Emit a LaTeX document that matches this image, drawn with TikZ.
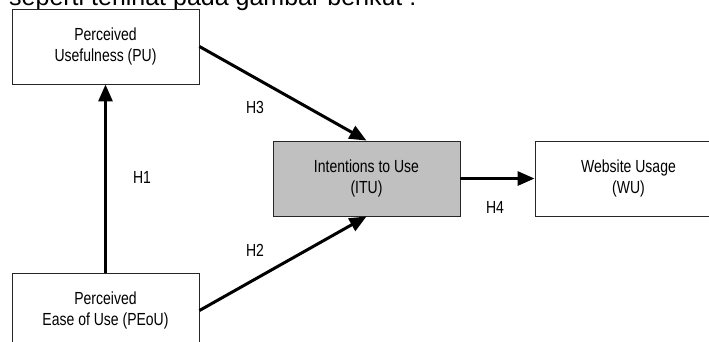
\documentclass[tikz,border=0pt]{standalone}
\usepackage{fontspec}
\setmainfont{Liberation Sans}
\newfontfamily\boxfont{Liberation Sans}[FakeStretch=0.8]
\usetikzlibrary{arrows.meta}
\definecolor{itugray}{RGB}{192,192,192}
\tikzset{
  x=1pt, y=-1pt,
  box/.style={draw=black!85, line width=0.9pt, fill=white, minimum width=187pt, minimum height=75pt,
    inner sep=0pt, align=center, font=\boxfont\fontsize{17.5}{21}\selectfont},
  conn/.style={line width=3pt, -{Triangle[length=17pt,width=14pt]}, shorten >=0pt},
  lbl/.style={font=\boxfont\fontsize{17.5}{19}\selectfont, inner sep=0pt}
}
\begin{document}
\begin{tikzpicture}
\useasboundingbox (0,0) rectangle (709,342);
\clip (0,0) rectangle (709,342);
\node[anchor=base west, inner sep=0pt, font=\fontsize{25}{28}\selectfont] (title) at (9,6) {seperti terlihat pada gambar berikut :};
\node[box] (pu) at (105.5,46.5) {Perceived\\Usefulness (PU)};
\node[box] (peou) at (105.5,310.5) {Perceived\\Ease of Use (PEoU)};
\node[box, fill=itugray] (itu) at (366.5,178.5) {Intentions to Use\\(ITU)};
\node[box] (wu) at (628.5,178.5) {Website Usage\\(WU)};
\draw[conn] (peou.north) -- (pu.south);
\draw[conn] (pu.east) -- (itu.north);
\draw[conn] (peou.east) -- (itu.south);
\draw[conn] (itu.east) -- (wu.west);
\node[lbl] (h1) at (142,177) {H1};
\node[lbl] (h2) at (255,250) {H2};
\node[lbl] (h3) at (255,107) {H3};
\node[lbl] (h4) at (495,207) {H4};
\end{tikzpicture}
\end{document}
